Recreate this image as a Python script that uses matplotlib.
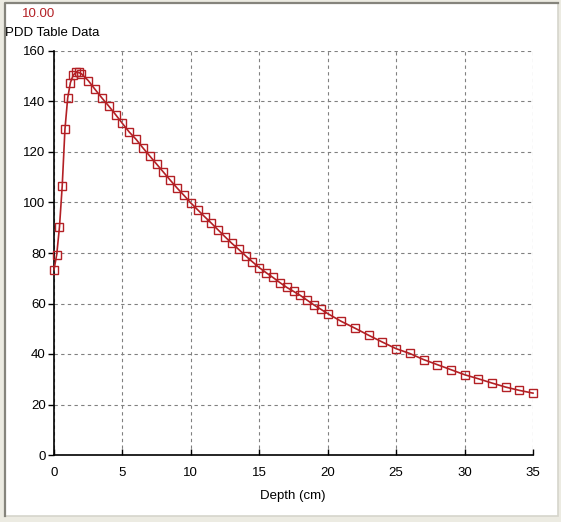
import matplotlib
matplotlib.use("Agg")
import matplotlib.pyplot as plt
from matplotlib.patches import Rectangle
from matplotlib.lines import Line2D

# depth (cm) and PDD table values
depth = [0, 0.2, 0.4, 0.6, 0.8, 1.0, 1.2, 1.4, 1.6, 1.8, 2.0,
         2.5, 3.0, 3.5, 4.0, 4.5, 5.0, 5.5, 6.0, 6.5, 7.0, 7.5, 8.0,
         8.5, 9.0, 9.5, 10.0, 10.5, 11.0, 11.5, 12.0, 12.5, 13.0, 13.5,
         14.0, 14.5, 15.0, 15.5, 16.0, 16.5, 17.0, 17.5, 18.0, 18.5,
         19.0, 19.5, 20.0,
         21, 22, 23, 24, 25, 26, 27, 28, 29, 30, 31, 32, 33, 34, 35]
pdd = [73.4, 79.4, 90.3, 106.5, 129.0, 141.4, 147.5, 150.4, 151.5, 151.5, 151.0,
       148.3, 144.8, 141.4, 138.2, 134.8, 131.3, 127.9, 125.0, 121.6, 118.4, 115.2, 112.0,
       108.8, 105.7, 102.8, 99.8, 97.1, 94.4, 91.8, 89.1, 86.4, 83.8, 81.4,
       78.9, 76.5, 74.2, 72.2, 70.3, 68.3, 66.4, 64.8, 63.2, 61.3,
       59.4, 57.7, 56.0,
       52.9, 50.2, 47.4, 44.7, 42.1, 40.2, 37.8, 35.8, 33.8, 31.8, 30.2, 28.5, 26.9, 25.6, 24.5]

x_ticks = [0, 5, 10, 15, 20, 25, 30, 35]
y_ticks = [0, 20, 40, 60, 80, 100, 120, 140, 160]

W, H = 561, 522
plt.rcParams["font.family"] = ["Liberation Sans", "DejaVu Sans"]
fs = 9.5

fig = plt.figure(figsize=(W / 100, H / 100), dpi=100, facecolor="#ecebe2")

# white panel, sunken border: dark left/top, light right/bottom
fig.patches.append(Rectangle((5 / W, 1 - 516 / H), 553 / W, 513 / H,
                             transform=fig.transFigure, facecolor="white",
                             edgecolor="#d6d5cc", linewidth=1.2, zorder=-10))
fig.lines.append(Line2D([5 / W, 5 / W, 558 / W], [1 - 516 / H, 1 - 3 / H, 1 - 3 / H],
                        transform=fig.transFigure, color="#85847c", linewidth=1.6,
                        zorder=-9))

ax = fig.add_axes([54 / W, 1 - 455 / H, (533 - 54) / W, (455 - 51) / H])
ax.set_facecolor("white")
ax.plot(depth, pdd, "-s", color="#b32025", linewidth=1.2, markersize=6,
        markerfacecolor="none", markeredgewidth=1.0, clip_on=False, zorder=3)

ax.set_xlim(0, 35)
ax.set_ylim(0, 160)
ax.set_xticks(x_ticks)
ax.set_yticks(y_ticks)
ax.tick_params(axis="x", direction="in", length=4, width=1, labelsize=fs, pad=9)
ax.tick_params(axis="y", direction="out", length=4, width=1, labelsize=fs, pad=2)
ax.grid(True, color="#808080", linestyle=(0, (3, 3)), linewidth=0.8)
for side in ("top", "right"):
    ax.spines[side].set_visible(False)
for side in ("left", "bottom"):
    ax.spines[side].set_linewidth(1.2)

fig.text(22 / W, 1 - 14 / H, "10.00", color="#b32025", fontsize=fs, va="center")
fig.text(5 / W, 1 - 33 / H, "PDD Table Data", color="black", fontsize=fs, va="center")
fig.text(293 / W, 1 - 496 / H, "Depth (cm)", color="black", fontsize=fs,
         ha="center", va="center")

fig.savefig("out.png", dpi=100, facecolor=fig.get_facecolor())
